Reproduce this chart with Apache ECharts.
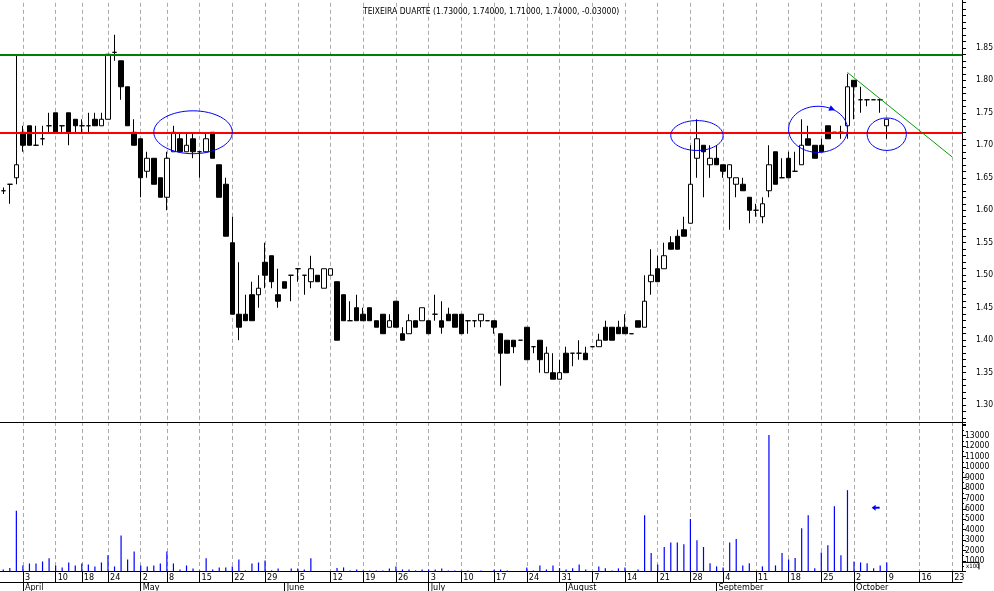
<!DOCTYPE html>
<html><head><meta charset="utf-8">
<script src="https://cdn.jsdelivr.net/npm/echarts@6/dist/echarts.min.js"></script>
<style>html,body{margin:0;padding:0;background:#fff}#c{width:994px;height:591px}</style>
</head><body><div id="c"></div>
<script>
// ---- data (2006 trading days, MM-DD) ----
const dates = [
'03-29','03-30','03-31',
'04-03','04-04','04-05','04-06','04-07','04-10','04-11','04-12','04-13','04-18','04-19','04-20','04-21','04-24','04-25','04-26','04-27','04-28',
'05-02','05-03','05-04','05-05','05-08','05-09','05-10','05-11','05-12','05-15','05-16','05-17','05-18','05-19','05-22','05-23','05-24','05-25','05-26','05-29','05-30','05-31',
'06-01','06-02','06-05','06-06','06-07','06-08','06-09','06-12','06-13','06-14','06-15','06-16','06-19','06-20','06-21','06-22','06-23','06-26','06-27','06-28','06-29','06-30',
'07-03','07-04','07-05','07-06','07-07','07-10','07-11','07-12','07-13','07-14','07-17','07-18','07-19','07-20','07-21','07-24','07-25','07-26','07-27','07-28','07-31',
'08-01','08-02','08-03','08-04','08-07','08-08','08-09','08-10','08-11','08-14','08-15','08-16','08-17','08-18','08-21','08-22','08-23','08-24','08-25','08-28','08-29','08-30','08-31',
'09-01','09-04','09-05','09-06','09-07','09-08','09-11','09-12','09-13','09-14','09-15','09-18','09-19','09-20','09-21','09-22','09-25','09-26','09-27','09-28','09-29',
'10-02','10-03','10-04','10-05','10-06','10-09','10-10','10-11','10-12','10-13','10-16','10-17','10-18','10-19','10-20','10-23','10-24'
];
const openP = [1.63,1.64,1.65,
1.72,1.73,1.70,1.71,1.73,1.75,1.73,1.75,1.74,1.73,1.73,1.74,1.73,1.74,1.843,1.83,1.79,1.72,
1.71,1.66,1.68,1.65,1.62,1.69,1.71,1.69,1.71,1.69,1.69,1.72,1.67,1.64,1.55,1.44,1.44,1.47,1.47,1.52,1.53,1.47,
1.49,1.50,1.51,1.50,1.49,1.50,1.48,1.50,1.49,1.47,1.43,1.45,1.44,1.45,1.43,1.44,1.42,1.46,1.41,1.41,1.43,1.43,
1.43,1.44,1.43,1.44,1.44,1.44,1.43,1.43,1.43,1.43,1.43,1.41,1.40,1.40,1.40,1.42,1.39,1.40,1.35,1.35,1.34,
1.38,1.38,1.38,1.38,1.39,1.39,1.42,1.42,1.42,1.42,1.41,1.43,1.42,1.49,1.51,1.51,1.55,1.56,1.57,1.58,1.68,1.70,1.67,
1.68,1.67,1.65,1.64,1.64,1.62,1.60,1.59,1.63,1.69,1.65,1.68,1.66,1.67,1.71,1.70,1.70,1.73,1.72,1.72,1.73,
1.80,1.77,1.77,1.77,1.77,1.73];
const closeP = [1.63,1.64,1.67,
1.70,1.70,1.70,1.71,1.73,1.72,1.73,1.72,1.73,1.73,1.73,1.73,1.74,1.84,1.843,1.79,1.73,1.70,
1.65,1.68,1.64,1.62,1.68,1.72,1.69,1.70,1.69,1.69,1.71,1.68,1.62,1.56,1.44,1.42,1.43,1.43,1.48,1.50,1.49,1.46,
1.48,1.50,1.51,1.50,1.51,1.49,1.51,1.51,1.40,1.43,1.43,1.43,1.43,1.43,1.42,1.41,1.43,1.42,1.40,1.43,1.42,1.45,
1.41,1.44,1.42,1.43,1.42,1.41,1.43,1.43,1.44,1.43,1.42,1.38,1.38,1.39,1.40,1.37,1.39,1.37,1.38,1.34,1.35,
1.35,1.38,1.38,1.37,1.39,1.40,1.40,1.40,1.41,1.41,1.41,1.42,1.46,1.50,1.49,1.53,1.54,1.54,1.56,1.64,1.71,1.69,1.68,
1.67,1.66,1.67,1.65,1.63,1.60,1.60,1.61,1.67,1.64,1.65,1.65,1.66,1.70,1.70,1.68,1.69,1.71,1.72,1.72,1.79,
1.79,1.77,1.77,1.77,1.77,1.74];
const lowP = [1.625,1.61,1.64,
1.69,1.70,1.70,1.70,1.72,1.72,1.72,1.70,1.72,1.72,1.72,1.73,1.73,1.74,1.83,1.77,1.73,1.70,
1.62,1.65,1.64,1.62,1.60,1.69,1.69,1.69,1.68,1.65,1.69,1.68,1.62,1.56,1.44,1.40,1.43,1.43,1.45,1.48,1.48,1.45,
1.48,1.46,1.49,1.47,1.48,1.49,1.48,1.50,1.40,1.43,1.43,1.43,1.43,1.43,1.42,1.41,1.42,1.42,1.40,1.41,1.42,1.43,
1.41,1.43,1.41,1.43,1.42,1.41,1.41,1.42,1.42,1.43,1.41,1.33,1.38,1.38,1.40,1.37,1.38,1.35,1.35,1.34,1.34,
1.35,1.36,1.37,1.37,1.39,1.39,1.40,1.40,1.41,1.41,1.41,1.42,1.42,1.47,1.49,1.51,1.54,1.54,1.56,1.58,1.65,1.62,1.65,
1.67,1.65,1.57,1.62,1.63,1.58,1.59,1.58,1.62,1.64,1.65,1.65,1.66,1.67,1.70,1.68,1.69,1.71,1.72,1.71,1.71,
1.74,1.75,1.76,1.77,1.75,1.71];
const highP = [1.635,1.64,1.84,
1.73,1.73,1.73,1.73,1.75,1.75,1.73,1.75,1.74,1.74,1.75,1.75,1.75,1.84,1.87,1.83,1.79,1.74,
1.71,1.69,1.68,1.65,1.69,1.73,1.72,1.72,1.72,1.69,1.72,1.72,1.67,1.65,1.59,1.52,1.47,1.49,1.50,1.55,1.53,1.51,
1.49,1.50,1.51,1.50,1.53,1.50,1.51,1.51,1.49,1.47,1.46,1.47,1.45,1.45,1.43,1.44,1.44,1.46,1.42,1.44,1.43,1.45,
1.43,1.47,1.46,1.45,1.44,1.44,1.43,1.43,1.44,1.43,1.43,1.41,1.40,1.40,1.40,1.42,1.39,1.40,1.39,1.38,1.37,
1.39,1.38,1.40,1.39,1.39,1.41,1.43,1.42,1.43,1.44,1.41,1.43,1.50,1.54,1.53,1.55,1.56,1.57,1.59,1.70,1.74,1.70,1.70,
1.70,1.67,1.67,1.65,1.65,1.62,1.61,1.62,1.70,1.69,1.68,1.69,1.69,1.74,1.73,1.70,1.71,1.73,1.72,1.73,1.81,
1.80,1.79,1.77,1.77,1.77,1.74];
const volume = [190,317,5810,
571,762,762,952,1270,571,381,857,571,762,667,476,857,1556,476,3429,1143,1905,
571,476,571,762,1905,762,190,571,286,95,1270,190,381,381,476,1143,95,762,857,1048,95,286,
0,286,286,190,1270,0,0,0,317,381,95,190,95,95,95,95,286,476,190,190,95,190,
190,190,286,95,95,95,95,0,95,0,160,190,95,0,0,380,95,575,190,575,320,
190,290,670,190,0,480,290,95,290,380,0,190,5380,1760,670,2340,2780,2780,2590,5020,2980,2340,770,
480,380,2780,3100,575,770,0,480,13060,575,1760,1150,1280,4130,5380,290,1820,2500,6240,1540,7780,
960,860,770,290,575,860];
const weekStarts = ['04-03','04-10','04-18','04-24','05-02','05-08','05-15','05-22','05-29','06-05','06-12','06-19','06-26',
'07-03','07-10','07-17','07-24','07-31','08-07','08-14','08-21','08-28','09-04','09-11','09-18','09-25','10-02','10-09','10-16','10-23'];
const monthStarts = ['04-03','05-02','06-01','07-03','08-01','09-01','10-02'];
const monthNames = ['April','May','June','July','August','September','October'];
const resistanceLevel = 1.843;
const supportLevel = 1.72;
const trendLine = [['09-29', 1.812], ['10-23', 1.682]];
const ellipses = [
  {from:'05-04', to:'05-22', top:1.753, bottom:1.687},
  {from:'08-23', to:'09-04', top:1.738, bottom:1.692},
  {from:'09-18', to:'09-29', top:1.760, bottom:1.689, arrow:true},
  {from:'10-04', to:'10-12', top:1.742, bottom:1.692}
];
const volumeArrow = ['10-05', 6100];
const titleText = 'TEIXEIRA DUARTE (1.73000, 1.74000, 1.71000, 1.74000, -0.03000)';

// ---- build ----
const FONT = 'Liberation Sans Narrow, DejaVu Sans Condensed, Liberation Sans, sans-serif';
const weekSet = new Set(weekStarts);
const monthSet = new Set(monthStarts);
const idx = (d) => dates.indexOf(d);
const candles = dates.map((d, i) => i < openP.length ? [openP[i], closeP[i], lowP[i], highP[i]] : '-');
const vols = dates.map((d, i) => i < volume.length ? volume[i] : '-');
// half-step helper axis: point j of (2N+1) without boundary gap = centre of category (j-1)/2
const halfSteps = Array.from({length: dates.length*2 + 1}, (_, j) => 'h' + j);
const weekCentre = (j) => j % 2 === 1 && weekSet.has(dates[(j-1)/2]);
const gridLineStyle = {color:'#aaaaaa', type:[4,3], width:1};
const gridAxis = (gi) => ({gridIndex:gi, type:'category', data:halfSteps, boundaryGap:false, show:true,
  axisLine:{show:false}, axisTick:{show:false}, axisLabel:{show:false},
  splitLine:{show:true, interval:(j)=>weekCentre(j), lineStyle:gridLineStyle}});

const chart = echarts.init(document.getElementById('c'), null, {renderer:'canvas'});
const option = {
  animation: false,
  backgroundColor: '#fff',
  title: {text: titleText, left: 358, top: 2, textStyle: {fontSize: 8.5, fontWeight: 'normal', color: '#000', fontFamily: FONT}},
  grid: [
    {left: 0, right: 32, top: -4.2, height: 428.9, outerBoundsMode: 'none', containLabel: false},
    {left: 0, right: 32, top: 422, height: 149.4, outerBoundsMode: 'none', containLabel: false}
  ],
  xAxis: [
    {gridIndex:0, type:'category', data:dates, boundaryGap:true, offset:-2.7,
     axisLine:{show:true, lineStyle:{color:'#000', width:1}}, axisTick:{show:false}, axisLabel:{show:false}, splitLine:{show:false}},
    {gridIndex:1, type:'category', data:dates, boundaryGap:true,
     axisLine:{show:true, lineStyle:{color:'#000', width:1}},
     axisTick:{show:true, alignWithLabel:true, length:11, lineStyle:{color:'#000'}, interval:(i)=>weekSet.has(dates[i])},
     axisLabel:{show:true, interval:(i)=>weekSet.has(dates[i]), formatter:(v)=>String(parseInt(v.slice(3),10)),
       align:'left', margin:2, padding:[0,0,0,2], fontSize:9, color:'#000', fontFamily:FONT},
     splitLine:{show:false}},
    {gridIndex:1, type:'category', data:dates, boundaryGap:true, position:'bottom', offset:11,
     axisLine:{show:true, lineStyle:{color:'#000', width:1}},
     axisTick:{show:true, alignWithLabel:true, length:9, lineStyle:{color:'#000'}, interval:(i)=>monthSet.has(dates[i])},
     axisLabel:{show:true, interval:(i)=>monthSet.has(dates[i]), formatter:(v)=>monthNames[monthStarts.indexOf(v)] || '',
       align:'left', margin:1, padding:[0,0,0,2], fontSize:9, color:'#000', fontFamily:FONT},
     splitLine:{show:false}},
    gridAxis(0),
    gridAxis(1)
  ],
  yAxis: [
    {gridIndex:0, type:'value', position:'right', min:1.27, max:1.93, interval:0.01,
     axisLine:{show:true, lineStyle:{color:'#000'}}, axisTick:{show:true, length:4, lineStyle:{color:'#000'}},
     axisLabel:{margin:14, fontSize:8.5, color:'#000', fontFamily:FONT, formatter:(v)=>{const c=Math.round(v*100); return (c%5===0 && c>=130 && c<=185) ? (c/100).toFixed(2) : '';}},
     splitLine:{show:false}},
    {gridIndex:1, type:'value', position:'right', min:0, max:14310, interval:1000,
     axisLine:{show:true, lineStyle:{color:'#000'}}, axisTick:{show:true, length:4, lineStyle:{color:'#000'}},
     minorTick:{show:true, splitNumber:2, length:2, lineStyle:{color:'#000'}},
     axisLabel:{margin:3, fontSize:8.5, color:'#000', fontFamily:FONT, formatter:(v)=> (v>=1000 && v<=13000) ? String(v) : ''},
     splitLine:{show:false}}
  ],
  series: [
    {type:'candlestick', xAxisIndex:0, yAxisIndex:0, data:candles, barWidth:5, z:3,
     itemStyle:{color:'#ffffff', color0:'#000000', borderColor:'#000000', borderColor0:'#000000', borderColorDoji:'#000000', borderWidth:1},
     markLine:{silent:true, z:4, symbol:['none','none'], label:{show:false},
       data:[
         {yAxis: resistanceLevel, lineStyle:{color:'#008000', width:2, type:'solid'}},
         {yAxis: supportLevel, lineStyle:{color:'#ff0000', width:2, type:'solid'}},
         [{coord: [idx(trendLine[0][0]), trendLine[0][1]], lineStyle:{color:'#00a000', width:1, type:'solid'}}, {coord: [idx(trendLine[1][0]), trendLine[1][1]]}]
       ]}},
    {type:'bar', xAxisIndex:1, yAxisIndex:1, data:vols, barWidth:1.2, z:3, itemStyle:{color:'#0000ff'}}
  ]
};
chart.setOption(option);

// annotations positioned through the chart's own coordinate conversion
const g = [];
ellipses.forEach(e => {
  const pL = chart.convertToPixel({xAxisIndex:0, yAxisIndex:0}, [idx(e.from), e.top]);
  const pR = chart.convertToPixel({xAxisIndex:0, yAxisIndex:0}, [idx(e.to), e.bottom]);
  const cx = (pL[0]+pR[0])/2, cy = (pL[1]+pR[1])/2, rx = (pR[0]-pL[0])/2, ry = (pR[1]-pL[1])/2;
  g.push({type:'ellipse', shape:{cx, cy, rx, ry}, style:{fill:null, stroke:'#0000ff', lineWidth:1}, z:10, silent:true});
  if (e.arrow) {
    const t = 61*Math.PI/180;
    const ax = cx + rx*Math.cos(t), ay = cy - ry*Math.sin(t);
    const ang = Math.atan2(ry*Math.cos(t), rx*Math.sin(t));
    const L = 6, W = 3;
    const tip = [ax + Math.cos(ang)*L/2, ay + Math.sin(ang)*L/2];
    const base = [ax - Math.cos(ang)*L/2, ay - Math.sin(ang)*L/2];
    const nx = -Math.sin(ang)*W, ny = Math.cos(ang)*W;
    g.push({type:'polygon', shape:{points:[tip,[base[0]+nx,base[1]+ny],[base[0]-nx,base[1]-ny]]}, style:{fill:'#0000ff'}, z:11, silent:true});
  }
});
const va = chart.convertToPixel({xAxisIndex:1, yAxisIndex:1}, [idx(volumeArrow[0]), volumeArrow[1]]);
const tipX = va[0]-2, tipY = va[1];
g.push({type:'polygon', shape:{points:[[tipX,tipY],[tipX+4,tipY-3],[tipX+4,tipY+3]]}, style:{fill:'#0000ff'}, z:11, silent:true});
g.push({type:'line', shape:{x1:tipX+3, y1:tipY, x2:tipX+8, y2:tipY}, style:{stroke:'#0000ff', lineWidth:2}, z:11, silent:true});
const vb = chart.convertToPixel({xAxisIndex:1, yAxisIndex:1}, [dates.length-1, 0]);
g.push({type:'text', x: 966, y: vb[1]-8, style:{text:'x100', fontSize:6, fill:'#000', fontFamily:FONT}, z:11, silent:true});
g.push({type:'polyline', shape:{points:[[963, vb[1]-9],[979, vb[1]-9],[979, vb[1]-2]]}, style:{stroke:'#000', lineWidth:1, fill:null}, z:11, silent:true});
chart.setOption({graphic: g});
</script>
</body></html>
